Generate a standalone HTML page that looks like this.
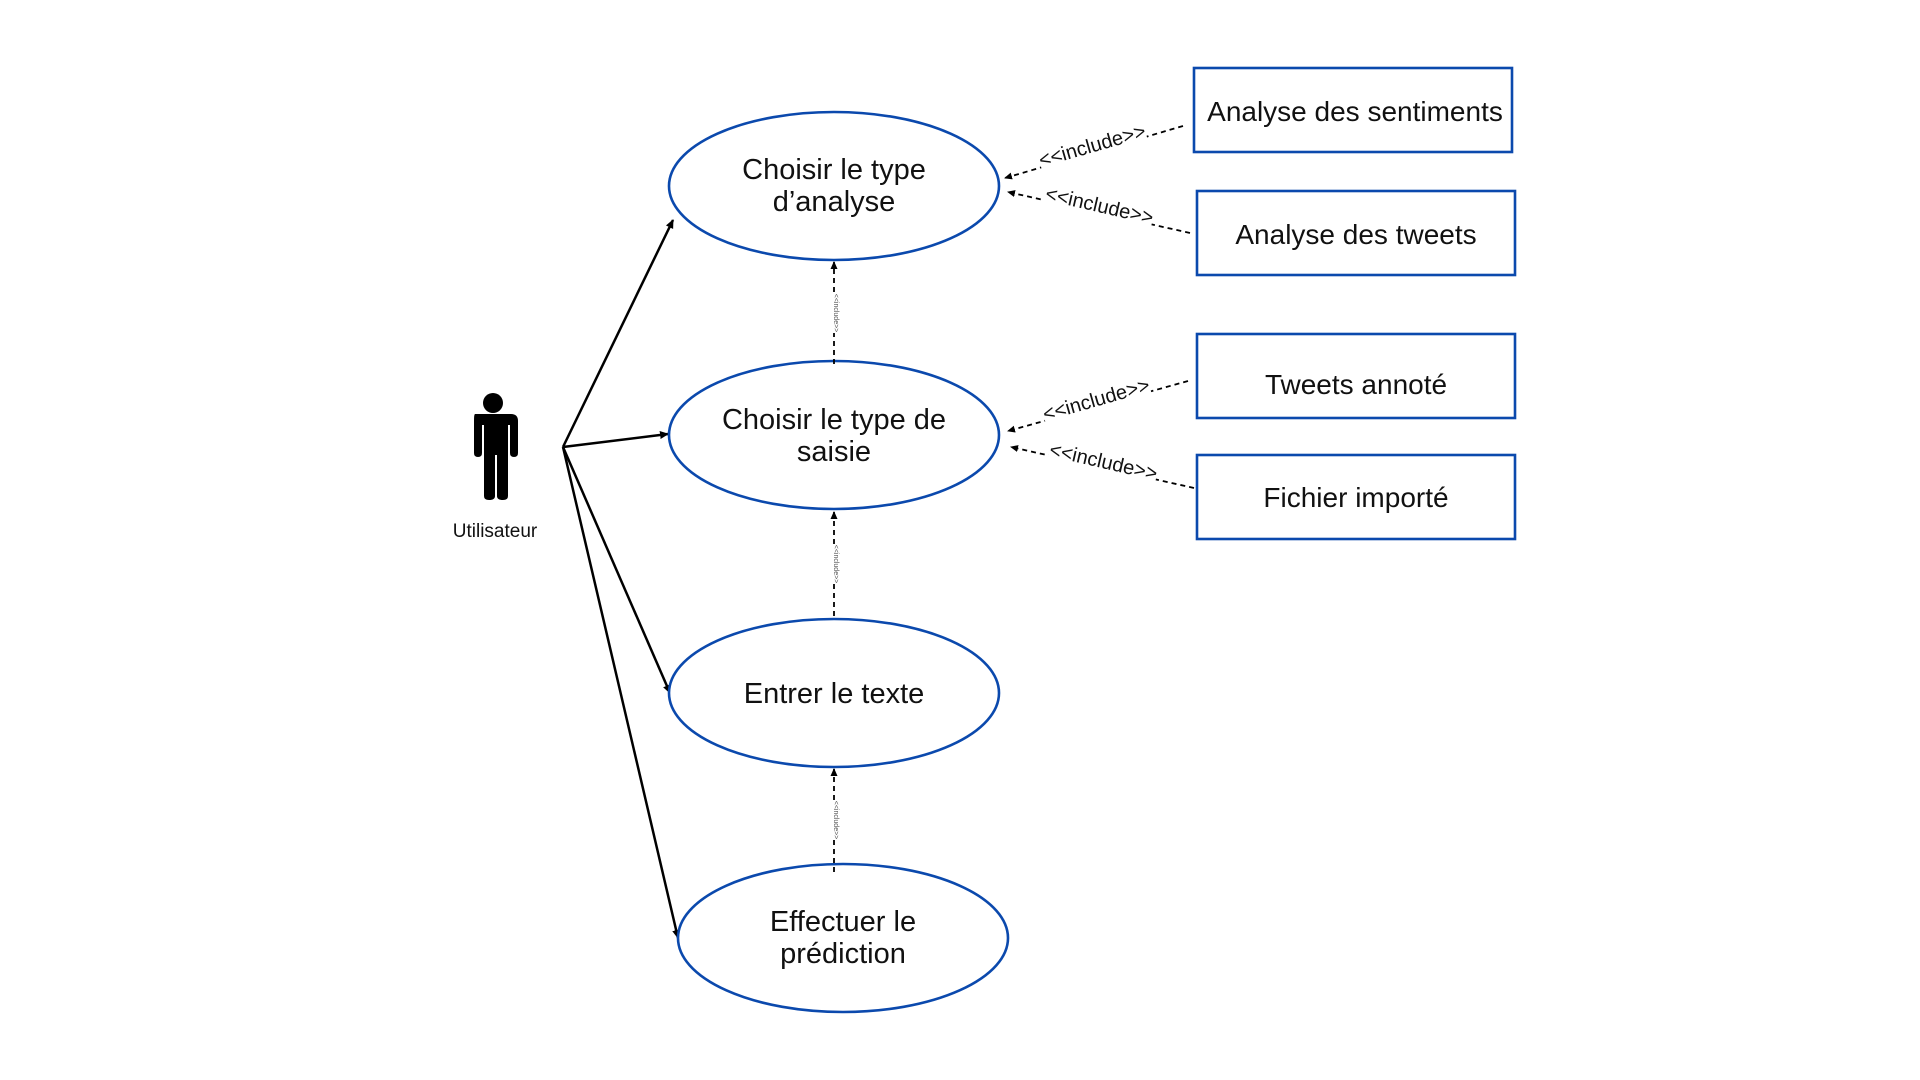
<!DOCTYPE html>
<html><head><meta charset="utf-8"><style>
html,body{margin:0;padding:0;background:#fff;}
svg{display:block;}
</style></head><body>
<svg width="1920" height="1080" viewBox="0 0 1920 1080" xmlns="http://www.w3.org/2000/svg" font-family="Liberation Sans, sans-serif">
<defs>
<marker id="a" markerWidth="10" markerHeight="10" refX="8" refY="5" orient="auto" markerUnits="userSpaceOnUse"><path d="M0,1 L9,5 L0,9 Z" fill="#000"/></marker>
<marker id="s" markerWidth="8" markerHeight="8" refX="7" refY="4" orient="auto" markerUnits="userSpaceOnUse"><path d="M0,0.5 L8,4 L0,7.5 Z" fill="#000"/></marker>
</defs>
<rect width="1920" height="1080" fill="#fff"/>
<circle cx="493" cy="403" r="10" fill="#000"/>
<path d="M475,414 H511 Q518,414 518,421 V453 Q518,457 514,457 Q510,457 510,453 V425 H508 V496 Q508,500 503,500 Q497,500 497,496 V455 H495 V496 Q495,500 489,500 Q484,500 484,496 V425 H482 V453 Q482,457 478,457 Q474,457 474,453 V421 Q474,414 475,414 Z" fill="#000"/>
<text x="495" y="537" font-size="19" text-anchor="middle" fill="#111">Utilisateur</text>
<g stroke="#000" stroke-width="2.5" fill="none">
<line x1="563" y1="447" x2="673" y2="220" marker-end="url(#a)"/>
<line x1="563" y1="447" x2="668" y2="434" marker-end="url(#a)"/>
<line x1="563" y1="447" x2="670" y2="693" marker-end="url(#a)"/>
<line x1="563" y1="447" x2="678" y2="938" marker-end="url(#a)"/>
</g>
<g fill="#fff" stroke="#0b49ad" stroke-width="2.6">
<ellipse cx="834" cy="186" rx="165" ry="74"/>
<ellipse cx="834" cy="435" rx="165" ry="74"/>
<ellipse cx="834" cy="693" rx="165" ry="74"/>
<ellipse cx="843" cy="938" rx="165" ry="74"/>
</g>
<g font-size="29" text-anchor="middle" fill="#111">
<text x="834" y="179">Choisir le type</text>
<text x="834" y="211">d’analyse</text>
<text x="834" y="429">Choisir le type de</text>
<text x="834" y="461">saisie</text>
<text x="834" y="703">Entrer le texte</text>
<text x="843" y="931">Effectuer le</text>
<text x="843" y="963">prédiction</text>
</g>
<g fill="#fff" stroke="#0b49ad" stroke-width="2.6">
<rect x="1194" y="68" width="318" height="84"/>
<rect x="1197" y="191" width="318" height="84"/>
<rect x="1197" y="334" width="318" height="84"/>
<rect x="1197" y="455" width="318" height="84"/>
</g>
<g font-size="28" text-anchor="middle" fill="#111">
<text x="1355" y="121">Analyse des sentiments</text>
<text x="1356" y="244">Analyse des tweets</text>
<text x="1356" y="394">Tweets annoté</text>
<text x="1356" y="507">Fichier importé</text>
</g>
<g stroke="#000" stroke-width="1.8" stroke-dasharray="5,4" fill="none">
<line x1="1183" y1="126" x2="1005" y2="178" marker-end="url(#s)"/>
<line x1="1190" y1="233" x2="1008" y2="192" marker-end="url(#s)"/>
<line x1="1188" y1="381" x2="1008" y2="431" marker-end="url(#s)"/>
<line x1="1194" y1="488" x2="1011" y2="447" marker-end="url(#s)"/>
<line x1="834" y1="364" x2="834" y2="262" marker-end="url(#s)"/>
<line x1="834" y1="616" x2="834" y2="512" marker-end="url(#s)"/>
<line x1="834" y1="872" x2="834" y2="769" marker-end="url(#s)"/>
</g>
<g font-size="20" text-anchor="middle" fill="#111">
<g transform="translate(1094,152) rotate(-16)"><rect x="-55" y="-17" width="110" height="23" fill="#fff"/><text x="0" y="0">&lt;&lt;include&gt;&gt;</text></g>
<g transform="translate(1098,212) rotate(13)"><rect x="-55" y="-17" width="110" height="23" fill="#fff"/><text x="0" y="0">&lt;&lt;include&gt;&gt;</text></g>
<g transform="translate(1098,406) rotate(-16)"><rect x="-55" y="-17" width="110" height="23" fill="#fff"/><text x="0" y="0">&lt;&lt;include&gt;&gt;</text></g>
<g transform="translate(1102,468) rotate(13)"><rect x="-55" y="-17" width="110" height="23" fill="#fff"/><text x="0" y="0">&lt;&lt;include&gt;&gt;</text></g>
</g>
<g font-size="7" text-anchor="middle" fill="#555">
<g transform="translate(834,313) rotate(90)"><rect x="-20" y="-6" width="40" height="8" fill="#fff"/><text x="0" y="0">&lt;&lt;include&gt;&gt;</text></g>
<g transform="translate(834,564) rotate(90)"><rect x="-20" y="-6" width="40" height="8" fill="#fff"/><text x="0" y="0">&lt;&lt;include&gt;&gt;</text></g>
<g transform="translate(834,820) rotate(90)"><rect x="-20" y="-6" width="40" height="8" fill="#fff"/><text x="0" y="0">&lt;&lt;include&gt;&gt;</text></g>
</g>
</svg>
</body></html>
